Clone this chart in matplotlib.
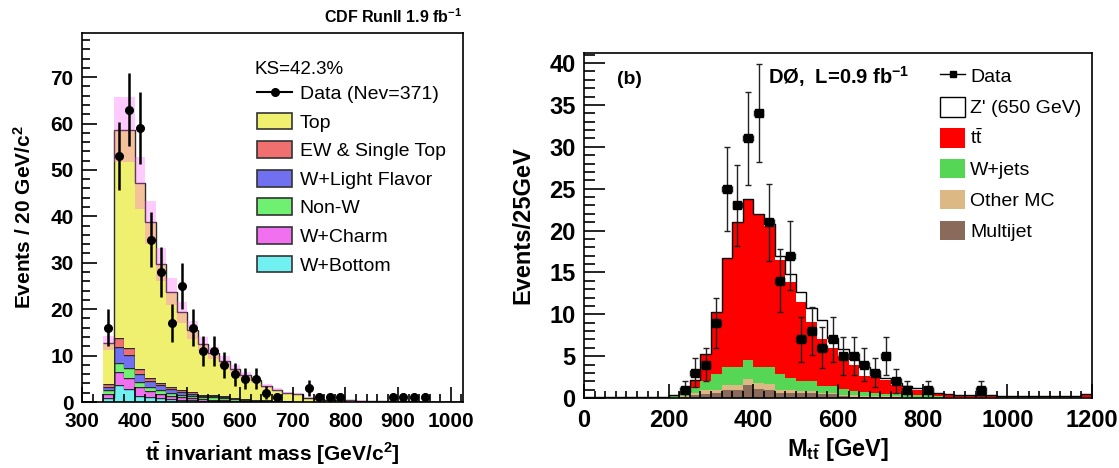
import matplotlib
matplotlib.use('Agg')
import matplotlib.pyplot as plt
import numpy as np
from matplotlib.lines import Line2D
from matplotlib.patches import Patch
from matplotlib.ticker import MultipleLocator

plt.rcParams['font.family'] = ['Liberation Sans', 'DejaVu Sans']
plt.rcParams['mathtext.fontset'] = 'custom'
plt.rcParams['mathtext.rm'] = 'Liberation Sans'
plt.rcParams['mathtext.it'] = 'Liberation Sans:italic'
plt.rcParams['mathtext.bf'] = 'Liberation Sans:bold'

# ---------------- left panel (CDF), 20 GeV bins from 340 ----------------
cdf_edges = np.arange(340, 1021, 20)
cdf_total = [12.7, 58.7, 58.7, 47.2, 38.7, 29.7, 23.8, 19.3, 15.5, 12.5, 10.6, 8.9,
             7.1, 5.8, 4.7, 3.5, 2.6, 1.9, 1.7, 0.9, 0.6, 0.5, 0.4, 0.35, 0.3, 0.25,
             0.2, 0.2, 0.15, 0.15, 0.1, 0.1, 0.1, 0.1]
w_bottom = [0.8, 3.6, 2.7, 1.3, 1.1, 0.9, 0.6, 0.5, 0.4, 0.3, 0.25, 0.2, 0.15, 0.1,
            0.1, 0.05, 0.05, 0.05] + [0.0] * 16
w_charm = [0.9, 2.9, 2.4, 1.9, 1.2, 0.9, 0.7, 0.5, 0.4, 0.3, 0.25, 0.2, 0.15, 0.1,
           0.1, 0.05, 0.05, 0.05] + [0.0] * 16
non_w = [0.8, 2.0, 2.3, 1.1, 1.0, 0.8, 0.7, 0.6, 0.5, 0.4, 0.5, 0.4, 0.3, 0.2,
         0.15, 0.1, 0.1, 0.05] + [0.0] * 16
w_light = [0.7, 3.4, 2.8, 1.65, 1.3, 1.0, 0.8, 0.6, 0.5, 0.4, 0.3, 0.3, 0.2, 0.15,
           0.1, 0.1, 0.05, 0.05] + [0.0] * 16
ew_single = [0.6, 1.8, 1.5, 1.2, 0.6, 0.5, 0.4, 0.3, 0.3, 0.2, 0.2, 0.15, 0.1, 0.1,
             0.05, 0.05, 0.05, 0.05] + [0.0] * 16

cdf_data_x = [350, 370, 390, 410, 430, 450, 470, 490, 510, 530, 550, 570, 590, 610,
              630, 650, 670, 730, 750, 770, 790, 890, 910, 930, 950]
cdf_data_y = [16, 53, 63, 59, 35, 28, 17, 25, 16, 11, 11, 8, 6, 5, 5, 2, 1, 3, 1, 1,
              1, 1, 1, 1, 1]

cdf_names = ['W+Bottom', 'W+Charm', 'Non-W', 'W+Light Flavor', 'EW & Single Top', 'Top']
cdf_colors = ['#70f0f0', '#f070f0', '#70f070', '#7070f0', '#f07070', '#f0f070']

# ---------------- right panel (D0), 25 GeV bins from 0 ----------------
d0_edges = np.arange(0, 1201, 25)
multijet = [0.05] * 9 + [0.1, 0.3, 0.5, 0.6, 0.9, 0.9, 1.5, 1.05, 0.9, 0.65, 0.6, 0.6,
                         0.6, 0.5, 0.5, 0.2, 0.15, 0.15, 0.1, 0.1, 0.1, 0.05, 0.05, 0.05,
                         0.05] + [0.03] * 14
other_mc = [0.05] * 9 + [0.1, 0.3, 0.4, 0.4, 0.7, 0.7, 0.75, 0.7, 0.8, 0.3, 0.3, 0.2,
                         0.2, 0.15, 0.15, 0.2, 0.15, 0.1, 0.1, 0.1, 0.1, 0.05, 0.05, 0.05,
                         0.05] + [0.03] * 14
wjets = [0.05] * 8 + [0.2, 0.2, 0.55, 1.15, 1.85, 2.15, 2.15, 2.3, 2.0, 2.05, 1.9, 1.5,
                      1.25, 1.2, 0.8, 0.8, 0.65, 0.5, 0.45, 0.4, 0.3, 0.25, 0.25, 0.2, 0.2,
                      0.15] + [0.08] * 14
ttbar = [0.0] * 9 + [0.3, 0.95, 3.15, 7.45, 12.95, 17.25, 19.25, 18.25, 16.75, 13.65,
                     11.5, 9.45, 7.1, 5.55, 4.55, 3.95, 3.2, 1.95, 1.9, 1.6, 1.1, 0.85,
                     0.7, 0.6, 0.4, 0.3, 0.25, 0.25, 0.2, 0.2, 0.15, 0.15, 0.15, 0.12,
                     0.12, 0.1, 0.1, 0.1, 0.35]
zprime = [0.0] * 17 + [0.3, 0.5, 0.9, 1.2, 1.7, 2.3, 1.2, 0.8, 0.7, 1.0, 0.4, 0.3, 0.2,
                       0.2, 0.2, 0.2] + [0.0] * 15

d0_data_x = [237.5, 262.5, 287.5, 312.5, 337.5, 362.5, 387.5, 412.5, 437.5, 462.5,
             487.5, 512.5, 537.5, 562.5, 587.5, 612.5, 637.5, 662.5, 687.5, 712.5,
             737.5, 762.5, 812.5, 937.5]
d0_data_y = [1, 3, 4, 9, 25, 23, 31, 34, 21, 14, 17, 7, 8, 6, 7, 5, 5, 4, 3, 5, 2, 1,
             1, 1]

d0_names = ['Multijet', 'Other MC', 'W+jets', r'$\mathregular{t\bar{t}}$']
d0_colors = ['#8a6a5a', '#dcb884', '#55d655', '#ff0000']

fig = plt.figure(figsize=(11.19, 4.68), dpi=100)

# ================= left =================
ax1 = fig.add_axes([82 / 1119, 66 / 468, 381 / 1119, 369 / 468])
comps = [w_bottom, w_charm, non_w, w_light, ew_single]
bg_sum = np.sum(np.array(comps), axis=0)
top = np.clip(np.array(cdf_total) - bg_sum, 0, None)
comps.append(top)
base = np.zeros(len(cdf_total))
for vals, col in zip(comps, cdf_colors):
    upper = base + np.array(vals)
    ax1.stairs(upper, cdf_edges, baseline=base, fill=True, color=col, lw=0)
    ax1.stairs(upper, cdf_edges, baseline=None, color='#2a2a2a', lw=1.0)
    base = upper

total = np.array(cdf_total)
ax1.stairs(total * 1.12, cdf_edges, baseline=total * 0.88, fill=True,
           color='#ff55ff', alpha=0.3, lw=0)

ax1.errorbar(cdf_data_x, cdf_data_y, yerr=np.sqrt(cdf_data_y), fmt='o', color='black',
             markersize=5.5, elinewidth=1.8, capsize=0, zorder=5)

ax1.set_xlim(300, 1023)
ax1.set_ylim(0, 79.5)
ax1.xaxis.set_major_locator(MultipleLocator(100))
ax1.xaxis.set_minor_locator(MultipleLocator(20))
ax1.yaxis.set_major_locator(MultipleLocator(10))
ax1.yaxis.set_minor_locator(MultipleLocator(2))
ax1.tick_params(which='both', direction='in', top=False, right=False, width=1.2)
ax1.tick_params(which='major', length=11, labelsize=15)
ax1.tick_params(axis='x', which='major', pad=7)
ax1.tick_params(axis='y', which='major', pad=6)
ax1.tick_params(which='minor', length=6)
for lab in ax1.get_xticklabels() + ax1.get_yticklabels():
    lab.set_fontweight('bold')
for sp in ax1.spines.values():
    sp.set_linewidth(1.2)
ax1.set_ylabel(r'Events / 20 GeV/c$^{\mathbf{2}}$', fontsize=15, fontweight='bold')
ax1.set_xlabel(r'$\mathbf{t\bar{t}}$ invariant mass [GeV/c$^{\mathbf{2}}$]',
               fontsize=15, fontweight='bold')
ax1.yaxis.set_label_coords(-0.125, 0.5)
ax1.xaxis.set_label_coords(0.5, -0.105)

fig.text(462 / 1119, 1 - 17 / 468, r'CDF RunII 1.9 fb$^{\mathbf{-1}}$', ha='right',
         va='center', fontsize=11.5, fontweight='bold')
fig.text(255 / 1119, 1 - 69 / 468, 'KS=42.3%', ha='left', va='center', fontsize=13.5)

h1 = [Line2D([], [], color='black', marker='o', markersize=5.5, lw=1.5)]
for name, col in zip(['Top', 'EW & Single Top', 'W+Light Flavor', 'Non-W', 'W+Charm',
                      'W+Bottom'],
                     ['#f0f070', '#f07070', '#7070f0', '#70f070', '#f070f0', '#70f0f0']):
    h1.append(Patch(facecolor=col, edgecolor='#333333', lw=1.2, label=name))
labels1 = ['Data (Nev=371)', 'Top', 'EW & Single Top', 'W+Light Flavor', 'Non-W',
           'W+Charm', 'W+Bottom']
ax1.legend(h1, labels1, loc='upper left', bbox_to_anchor=(257 / 1119, 1 - 84 / 468),
           bbox_transform=fig.transFigure, frameon=False, fontsize=14, borderpad=0,
           borderaxespad=0, handlelength=1.8, handleheight=0.95, handletextpad=0.4,
           labelspacing=0.49)

# ================= right =================
ax2 = fig.add_axes([584 / 1119, 70 / 468, 508 / 1119, 345 / 468])
base = np.zeros(len(ttbar))
for vals, col in zip([multijet, other_mc, wjets, ttbar], d0_colors):
    upper = base + np.array(vals)
    ax2.stairs(upper, d0_edges, baseline=base, fill=True, color=col, lw=0)
    base = upper
ax2.stairs(base + np.array(zprime), d0_edges, baseline=None, color='black', lw=1.0)

ax2.errorbar(d0_data_x, d0_data_y, yerr=np.sqrt(d0_data_y), xerr=11, fmt='s',
             color='black', ecolor='#222222', markersize=5.5, elinewidth=1.0,
             capsize=2, capthick=1.0, zorder=5)

ax2.set_xlim(0, 1200)
ax2.set_ylim(0, 41.2)
ax2.xaxis.set_major_locator(MultipleLocator(200))
ax2.xaxis.set_minor_locator(MultipleLocator(25))
ax2.yaxis.set_major_locator(MultipleLocator(5))
ax2.yaxis.set_minor_locator(MultipleLocator(1))
ax2.tick_params(which='both', direction='in', top=False, right=False, width=1.2)
ax2.tick_params(axis='y', which='major', length=15, labelsize=17, pad=6)
ax2.tick_params(axis='y', which='minor', length=8)
ax2.tick_params(axis='x', which='major', length=10, labelsize=17, pad=8)
ax2.tick_params(axis='x', which='minor', length=5)
for lab in ax2.get_xticklabels() + ax2.get_yticklabels():
    lab.set_fontweight('bold')
for sp in ax2.spines.values():
    sp.set_linewidth(1.2)
ax2.set_ylabel('Events/25GeV', fontsize=17, fontweight='bold')
ax2.set_xlabel(r'M$_{\mathbf{t\bar{t}}}$ [GeV]', fontsize=17, fontweight='bold')
ax2.yaxis.set_label_coords(-0.097, 0.5)
ax2.xaxis.set_label_coords(0.5, -0.11)

fig.text(617 / 1119, 1 - 80 / 468, '(b)', ha='left', va='center', fontsize=14,
         fontweight='bold')
fig.text(768 / 1119, 1 - 77 / 468, r'DØ,  L=0.9 fb$^{\mathbf{-1}}$', ha='left',
         va='center', fontsize=14.5, fontweight='bold')

h2 = [Line2D([], [], color='black', marker='s', markersize=5, lw=1.0),
      Patch(facecolor='white', edgecolor='black', lw=1.0)]
for col in ['#ff0000', '#55d655', '#dcb884', '#8a6a5a']:
    h2.append(Patch(facecolor=col, edgecolor='none'))
labels2 = ['Data', "Z' (650 GeV)", r'$\mathregular{t\bar{t}}$', 'W+jets', 'Other MC',
           'Multijet']
ax2.legend(h2, labels2, loc='upper left', bbox_to_anchor=(940 / 1119, 1 - 66 / 468),
           bbox_transform=fig.transFigure, frameon=False, fontsize=14, borderpad=0,
           borderaxespad=0, handlelength=1.3, handleheight=1.18, handletextpad=0.25,
           labelspacing=0.54)

fig.savefig('out.png', dpi=100)
